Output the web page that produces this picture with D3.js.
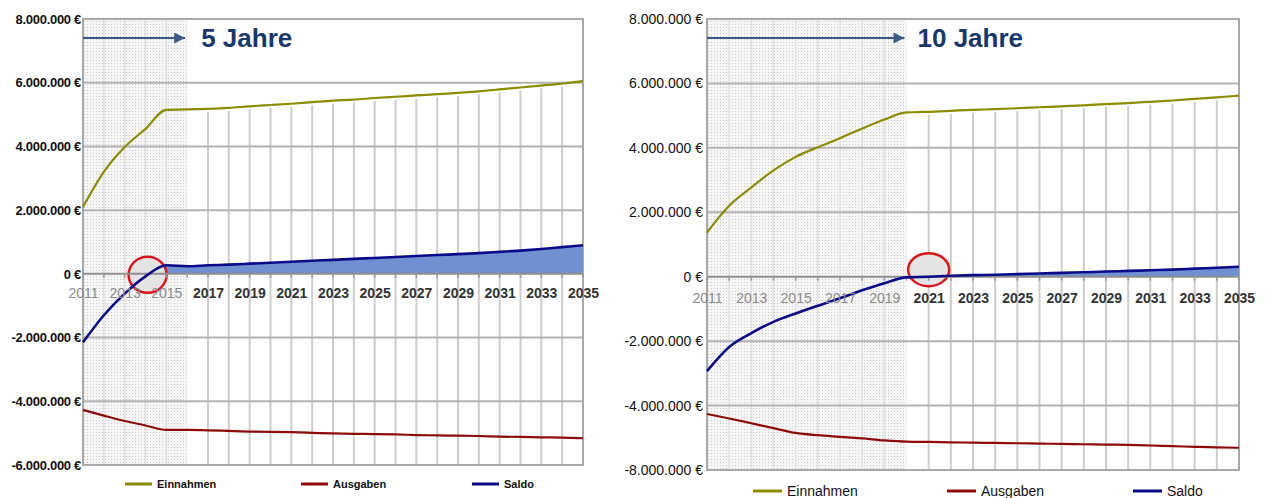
<!DOCTYPE html>
<html>
<head>
<meta charset="utf-8">
<script src="https://cdn.jsdelivr.net/npm/d3@7"></script>
<style>
  body { margin: 0; background: #fff; }
  svg { display: block; font-family: "Liberation Sans", Arial, sans-serif; }
</style>
</head>
<body>
<svg id="chart" width="1270" height="498"></svg>
<script>
// Jahre der Prognose
const years = [2011, 2012, 2013, 2014, 2015, 2016, 2017, 2018, 2019, 2020, 2021, 2022,
               2023, 2024, 2025, 2026, 2027, 2028, 2029, 2030, 2031, 2032, 2033, 2034, 2035];
const xTickYears = [2011, 2013, 2015, 2017, 2019, 2021, 2023, 2025, 2027, 2029, 2031, 2033, 2035];

// y-Achse in Mio. €
const yTicks = [8, 6, 4, 2, 0, -2, -4, -6];
const yLabels5 = ["8.000.000 €", "6.000.000 €", "4.000.000 €", "2.000.000 €", "0 €",
                  "-2.000.000 €", "-4.000.000 €", "-6.000.000 €"];
const yLabels10 = ["8.000.000 €", "6.000.000 €", "4.000.000 €", "2.000.000 €", "0 €",
                   "-2.000.000 €", "-4.000.000 €", "-8.000.000 €"];

const seriesNames = ["Einnahmen", "Ausgaben", "Saldo"];

// Szenario 5 Jahre (Mio. €)
const einnahmen5 = [2.10, 3.20, 3.98, 4.55, 5.15, 5.16, 5.18, 5.21, 5.26, 5.30, 5.34, 5.39,
                    5.44, 5.47, 5.52, 5.56, 5.60, 5.64, 5.68, 5.73, 5.79, 5.85, 5.91, 5.97, 6.05];
const ausgaben5  = [-4.27, -4.45, -4.62, -4.76, -4.90, -4.90, -4.91, -4.93, -4.95, -4.96, -4.97, -4.99,
                    -5.01, -5.02, -5.03, -5.04, -5.06, -5.07, -5.08, -5.09, -5.11, -5.12, -5.13, -5.14, -5.16];
const saldo5     = [-2.15, -1.30, -0.62, -0.08, 0.27, 0.24, 0.27, 0.29, 0.32, 0.35, 0.38, 0.41,
                    0.44, 0.47, 0.50, 0.53, 0.56, 0.59, 0.62, 0.65, 0.69, 0.73, 0.78, 0.84, 0.90];

// Szenario 10 Jahre (Mio. €)
const einnahmen10 = [1.37, 2.20, 2.77, 3.30, 3.72, 4.02, 4.30, 4.60, 4.88, 5.10, 5.12, 5.15,
                     5.18, 5.20, 5.23, 5.26, 5.29, 5.32, 5.36, 5.39, 5.43, 5.47, 5.52, 5.57, 5.62];
const ausgaben10  = [-4.26, -4.40, -4.55, -4.70, -4.85, -4.92, -4.97, -5.02, -5.08, -5.12, -5.13, -5.14,
                     -5.15, -5.16, -5.17, -5.18, -5.19, -5.20, -5.21, -5.22, -5.24, -5.26, -5.28, -5.30, -5.31];
const saldo10     = [-2.93, -2.18, -1.75, -1.40, -1.14, -0.90, -0.67, -0.42, -0.20, -0.02, 0.00, 0.03,
                     0.05, 0.06, 0.08, 0.10, 0.12, 0.14, 0.16, 0.18, 0.20, 0.22, 0.25, 0.28, 0.31];

// Ende der Anlaufphase und Break-even
const hatchEnd5 = 2016, hatchEnd10 = 2020;
const breakEven5 = 2014.1, breakEven10 = 2021;
const titles = ["5 Jahre", "10 Jahre"];

const colors = { Einnahmen: "#8c8c00", Ausgaben: "#8e0b0b", Saldo: "#0b0b8a", area: "#7090d2" };

const svg = d3.select("#chart");
const defs = svg.append("defs");
const pat = defs.append("pattern").attr("id", "stipple")
  .attr("width", 3).attr("height", 3).attr("patternUnits", "userSpaceOnUse");
pat.append("rect").attr("width", 3).attr("height", 3).attr("fill", "#f6f6f6");
pat.append("rect").attr("width", 1).attr("height", 1).attr("fill", "#cdcdcd");

defs.append("marker").attr("id", "arrowhead")
  .attr("viewBox", "0 0 10 10").attr("refX", 10).attr("refY", 5)
  .attr("markerUnits", "userSpaceOnUse").attr("markerWidth", 12).attr("markerHeight", 11)
  .attr("orient", "auto")
  .append("path").attr("d", "M0,0L10,5L0,10Z").attr("fill", "#3b5b86");

function drawPanel(cfg) {
  const g = svg.append("g");
  const x = d3.scaleLinear().domain([years[0], years[years.length - 1]]).range([cfg.left, cfg.right]);
  const y = d3.scaleLinear().domain([yTicks[yTicks.length - 1], yTicks[0]]).range([cfg.bottom, cfg.top]);
  const xh = x(cfg.hatchEnd);

  // Anlaufphase schraffiert
  g.append("rect").attr("x", cfg.left).attr("y", cfg.top)
    .attr("width", xh - cfg.left).attr("height", cfg.bottom - cfg.top)
    .attr("fill", "url(#stipple)");

  // senkrechte Jahreslinien in der Anlaufphase
  g.selectAll("line.vh").data(years.filter(d => d > years[0] && d < cfg.hatchEnd)).join("line")
    .attr("class", "vh")
    .attr("x1", d => x(d)).attr("x2", d => x(d))
    .attr("y1", cfg.top).attr("y2", cfg.bottom)
    .attr("stroke", "#e0e0e0").attr("stroke-width", 1.5);

  // senkrechte Jahreslinien unterhalb der Einnahmenkurve
  const fut = years.map((d, i) => ({ year: d, e: cfg.einnahmen[i] }))
    .filter(d => d.year > cfg.hatchEnd && d.year < years[years.length - 1]);
  g.selectAll("line.vf").data(fut).join("line")
    .attr("class", "vf")
    .attr("x1", d => x(d.year)).attr("x2", d => x(d.year))
    .attr("y1", d => y(d.e) + 3).attr("y2", cfg.bottom)
    .attr("stroke", "#cdcdcd").attr("stroke-width", 2);

  // waagerechte Gitterlinien
  g.selectAll("line.hg").data(yTicks.filter(d => d !== 0 && d !== yTicks[0] && d !== yTicks[yTicks.length - 1])).join("line")
    .attr("class", "hg")
    .attr("x1", cfg.left).attr("x2", cfg.right)
    .attr("y1", d => y(d)).attr("y2", d => y(d))
    .attr("stroke", "#b3b3b3").attr("stroke-width", 2);

  // Rahmen
  g.append("rect").attr("x", cfg.left).attr("y", cfg.top)
    .attr("width", cfg.right - cfg.left).attr("height", cfg.bottom - cfg.top)
    .attr("fill", "none").attr("stroke", "#a9a9a9").attr("stroke-width", 2);

  // positiver Saldo als Fläche
  const area = d3.area()
    .x((d, i) => x(years[i]))
    .y0(y(0))
    .y1(d => y(Math.max(0, d)))
    .curve(d3.curveMonotoneX);
  g.append("path").datum(cfg.saldo).attr("d", area).attr("fill", colors.area);

  // Break-even-Markierung
  g.append("ellipse")
    .attr("cx", x(cfg.breakEven)).attr("cy", y(0) + cfg.circleDy)
    .attr("rx", cfg.circleRx).attr("ry", cfg.circleRy)
    .attr("fill", "#e4e4e4").attr("stroke", "#d8161b").attr("stroke-width", 2.5);

  // Nulllinie mit Jahresstrichen
  g.append("line").attr("x1", cfg.left).attr("x2", cfg.right)
    .attr("y1", y(0)).attr("y2", y(0))
    .attr("stroke", "#8e8e8e").attr("stroke-width", 2);
  g.selectAll("line.tk").data(years).join("line")
    .attr("class", "tk")
    .attr("x1", d => x(d)).attr("x2", d => x(d))
    .attr("y1", y(0)).attr("y2", y(0) + 4)
    .attr("stroke", "#9a9a9a").attr("stroke-width", 1.5);

  // Kurven
  const line = d3.line().x((d, i) => x(years[i])).y(d => y(d)).curve(d3.curveMonotoneX);
  [["Einnahmen", cfg.einnahmen, 2.2], ["Ausgaben", cfg.ausgaben, 2.2], ["Saldo", cfg.saldo, 2.6]]
    .forEach(([name, vals, w]) => {
      g.append("path").datum(vals).attr("d", line)
        .attr("fill", "none").attr("stroke", colors[name])
        .attr("stroke-width", w).attr("stroke-linejoin", "round");
    });

  // y-Achse
  const yAxis = g.append("g").attr("transform", `translate(${cfg.left},0)`)
    .call(d3.axisLeft(y).tickValues(yTicks).tickSize(0).tickPadding(cfg.yPad)
      .tickFormat((d, i) => cfg.yLabels[i]));
  yAxis.select(".domain").remove();
  yAxis.selectAll("text")
    .attr("font-family", "'Liberation Sans', Arial, sans-serif")
    .attr("font-size", cfg.yFont).attr("font-weight", cfg.yWeight)
    .attr("fill", "#111").attr("letter-spacing", cfg.ySpacing);

  // x-Achse an der Nulllinie
  const xAxis = g.append("g").attr("transform", `translate(0,${y(0)})`)
    .call(d3.axisBottom(x).tickValues(xTickYears).tickSize(0).tickPadding(cfg.xPad)
      .tickFormat(d3.format("d")));
  xAxis.select(".domain").remove();
  xAxis.selectAll("text")
    .attr("font-family", "'Liberation Sans', Arial, sans-serif")
    .attr("font-size", 14)
    .attr("font-weight", d => d < cfg.hatchEnd ? "normal" : "bold")
    .attr("fill", d => d < cfg.hatchEnd ? "#8c8c8c" : "#333");

  // Titel mit Pfeil über die Anlaufphase
  g.append("line")
    .attr("x1", cfg.left).attr("x2", xh - 2)
    .attr("y1", cfg.titleY).attr("y2", cfg.titleY)
    .attr("stroke", "#3b5b86").attr("stroke-width", 2)
    .attr("marker-end", "url(#arrowhead)");
  g.append("text")
    .attr("x", xh + cfg.titleGap).attr("y", cfg.titleBase)
    .attr("font-family", "'Liberation Sans', Arial, sans-serif")
    .attr("font-size", 26).attr("font-weight", "bold")
    .attr("fill", "#17386a")
    .text(cfg.title);

  // Legende
  seriesNames.forEach((name, i) => {
    const lx = cfg.legendX[i];
    g.append("line").attr("x1", lx).attr("x2", lx + cfg.legendLen)
      .attr("y1", cfg.legendY).attr("y2", cfg.legendY)
      .attr("stroke", colors[name]).attr("stroke-width", 3);
    g.append("text").attr("x", lx + cfg.legendLen + 5).attr("y", cfg.legendY)
      .attr("dy", "0.35em")
      .attr("font-family", "'Liberation Sans', Arial, sans-serif")
      .attr("font-size", cfg.legendFont).attr("font-weight", cfg.legendWeight)
      .attr("fill", "#111")
      .text(name);
  });
}

drawPanel({
  left: 83, right: 583, top: 19, bottom: 465,
  hatchEnd: hatchEnd5, breakEven: breakEven5,
  einnahmen: einnahmen5, ausgaben: ausgaben5, saldo: saldo5,
  yLabels: yLabels5, yFont: 13, yWeight: "bold", ySpacing: -0.3, yPad: 2,
  xPad: 14,
  circleDy: 1, circleRx: 19, circleRy: 18,
  title: titles[0], titleY: 38, titleBase: 47, titleGap: 14,
  legendX: [125, 301, 472], legendLen: 27, legendY: 484, legendFont: 11, legendWeight: "bold"
});

drawPanel({
  left: 707, right: 1239, top: 19, bottom: 470,
  hatchEnd: hatchEnd10, breakEven: breakEven10,
  einnahmen: einnahmen10, ausgaben: ausgaben10, saldo: saldo10,
  yLabels: yLabels10, yFont: 14, yWeight: "normal", ySpacing: 0, yPad: 4,
  xPad: 16,
  circleDy: -7, circleRx: 20.5, circleRy: 16.5,
  title: titles[1], titleY: 38, titleBase: 47, titleGap: 11,
  legendX: [753, 947, 1133], legendLen: 29, legendY: 491, legendFont: 14, legendWeight: "normal"
});
</script>
</body>
</html>
